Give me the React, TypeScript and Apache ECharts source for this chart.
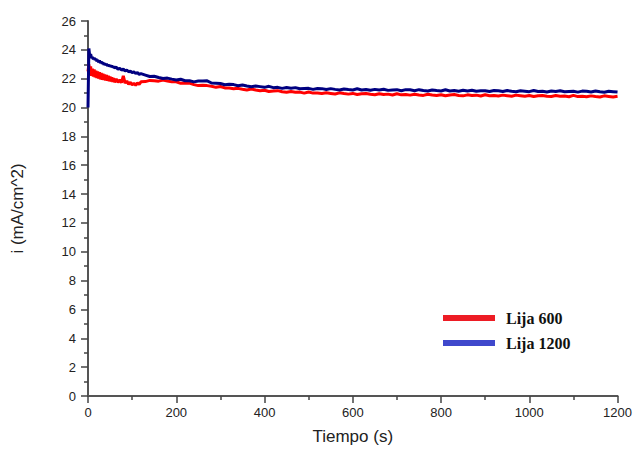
import React, { useEffect, useRef } from "react";
import * as echarts from "echarts";

const timeS: number[] = [
  0, 2, 4, 6, 8, 10, 12, 14, 16, 18,
  20, 22, 24, 26, 28, 30, 32, 34, 36, 38,
  40, 42, 44, 46, 48, 50, 52, 54, 56, 58,
  60, 64, 68, 72, 76, 80, 84, 88, 92, 96,
  100, 104, 108, 112, 116, 120,
  130, 140, 150, 160, 170, 180, 190, 200, 210, 220,
  230, 240, 250, 260, 270, 280, 290, 300, 310, 320,
  330, 340, 350, 360, 370, 380, 390, 400, 410, 420,
  430, 440, 450, 460, 470, 480, 490, 500, 510, 520,
  530, 540, 550, 560, 570, 580, 590, 600, 610, 620,
  630, 640, 650, 660, 670, 680, 690, 700, 710, 720,
  730, 740, 750, 760, 770, 780, 790, 800, 810, 820,
  830, 840, 850, 860, 870, 880, 890, 900, 910, 920,
  930, 940, 950, 960, 970, 980, 990, 1000, 1010, 1020,
  1030, 1040, 1050, 1060, 1070, 1080, 1090, 1100, 1110, 1120,
  1130, 1140, 1150, 1160, 1170, 1180, 1190, 1200,
];

const lija600: number[] = [
  22.5, 23.0, 22.3, 22.85, 22.2, 22.7, 22.15, 22.65, 22.1, 22.55,
  22.05, 22.5, 22.0, 22.45, 21.95, 22.4, 21.92, 22.35, 21.9, 22.3,
  21.88, 22.25, 21.85, 22.2, 21.82, 22.15, 21.8, 22.1, 21.78, 22.05,
  21.76, 21.98, 21.74, 21.92, 21.72, 22.2, 21.7, 21.85, 21.62, 21.75,
  21.58, 21.68, 21.55, 21.7, 21.6, 21.78,
  21.8, 21.88, 21.86, 21.83, 21.9, 21.84, 21.78, 21.79, 21.68, 21.7,
  21.69, 21.59, 21.52, 21.55, 21.52, 21.48, 21.4, 21.46, 21.36, 21.35,
  21.3, 21.33, 21.27, 21.22, 21.28, 21.22, 21.17, 21.2, 21.11, 21.15,
  21.17, 21.09, 21.06, 21.11, 21.06, 21.07, 21.0, 21.08, 21.0, 21.01,
  20.97, 21.02, 20.98, 20.94, 21.02, 20.97, 20.93, 20.98, 20.9, 20.96,
  20.98, 20.92, 20.89, 20.96, 20.91, 20.93, 20.87, 20.96, 20.88, 20.9,
  20.86, 20.92, 20.87, 20.84, 20.92, 20.87, 20.84, 20.89, 20.82, 20.87,
  20.9, 20.84, 20.81, 20.88, 20.84, 20.86, 20.8, 20.89, 20.82, 20.83,
  20.8, 20.86, 20.82, 20.78, 20.86, 20.82, 20.78, 20.83, 20.76, 20.82,
  20.84, 20.78, 20.76, 20.83, 20.78, 20.8, 20.75, 20.84, 20.76, 20.78,
  20.75, 20.81, 20.76, 20.73, 20.81, 20.77, 20.73, 20.78,
];

const lija1200: number[] = [
  20.0, 24.1, 23.55, 23.7, 23.45, 23.5, 23.35, 23.45, 23.3, 23.38,
  23.22, 23.3, 23.15, 23.25, 23.1, 23.18, 23.05, 23.12, 22.98, 23.06,
  22.95, 23.02, 22.9, 22.97, 22.86, 22.93, 22.82, 22.9, 22.78, 22.85,
  22.75, 22.8, 22.66, 22.72, 22.6, 22.66, 22.54, 22.6, 22.48, 22.53,
  22.42, 22.47, 22.36, 22.42, 22.3, 22.35,
  22.25, 22.15, 22.17, 22.08, 22.01, 22.04, 21.97, 21.91, 21.96, 21.86,
  21.86, 21.78, 21.84, 21.84, 21.85, 21.7, 21.69, 21.67, 21.58, 21.62,
  21.59, 21.51, 21.56, 21.49, 21.44, 21.49, 21.45, 21.4, 21.47, 21.38,
  21.4, 21.33, 21.39, 21.34, 21.38, 21.3, 21.32, 21.33, 21.26, 21.32,
  21.31, 21.25, 21.31, 21.26, 21.22, 21.29, 21.25, 21.22, 21.3, 21.22,
  21.25, 21.2, 21.26, 21.22, 21.27, 21.19, 21.22, 21.24, 21.17, 21.24,
  21.23, 21.17, 21.24, 21.18, 21.15, 21.22, 21.18, 21.15, 21.23, 21.15,
  21.18, 21.13, 21.2, 21.15, 21.2, 21.13, 21.16, 21.17, 21.11, 21.18,
  21.17, 21.11, 21.18, 21.13, 21.1, 21.16, 21.13, 21.1, 21.18, 21.11,
  21.13, 21.08, 21.15, 21.11, 21.16, 21.09, 21.11, 21.13, 21.07, 21.14,
  21.13, 21.08, 21.15, 21.09, 21.06, 21.13, 21.1, 21.07,
];

const seriesNames = ["Lija 600", "Lija 1200"];
const xTitle = "Tiempo (s)";
const yTitle = "i (mA/cm^2)";

export default function App() {
  const ref = useRef<HTMLDivElement>(null);
  useEffect(() => {
    if (!ref.current) return;
    const chart = echarts.init(ref.current, undefined, { renderer: "svg" });
    const pairs = (vals: number[]) => timeS.map((t, i) => [t, vals[i]]);
    const axisCommon = {
      axisLine: { show: true, lineStyle: { color: "#555", width: 2 } },
      axisTick: { show: true, inside: false, length: 7, lineStyle: { color: "#444", width: 1.5 } },
      minorTick: { show: true, splitNumber: 2, length: 4, lineStyle: { color: "#444", width: 1.5 } },
      splitLine: { show: false },
      axisLabel: { color: "#222", fontFamily: "Liberation Sans, Arial, sans-serif", fontSize: 13 },
      nameTextStyle: { color: "#222", fontFamily: "Liberation Sans, Arial, sans-serif", fontSize: 17 },
    };
    chart.setOption({
      animation: false,
      backgroundColor: "#fff",
      grid: { left: 88, right: 17, top: 21, bottom: 54 },
      legend: {
        show: true,
        orient: "vertical",
        left: 438,
        top: 305,
        itemWidth: 52,
        itemHeight: 6,
        itemGap: 9,
        icon: "rect",
        textStyle: {
          fontFamily: "Liberation Serif, Times New Roman, serif",
          fontWeight: "bold",
          fontSize: 16,
          color: "#111",
          padding: [0, 0, 0, 6],
        },
        data: [
          { name: seriesNames[0], itemStyle: { color: "#ed1c24" } },
          { name: seriesNames[1], itemStyle: { color: "#3f48cc" } },
        ],
      },
      xAxis: {
        type: "value",
        min: 0,
        max: 1200,
        interval: 200,
        name: xTitle,
        nameLocation: "middle",
        nameGap: 32,
        ...axisCommon,
        axisLabel: { ...axisCommon.axisLabel, margin: 10, formatter: (v: number) => String(v) },
      },
      yAxis: {
        type: "value",
        min: 0,
        max: 26,
        interval: 2,
        name: yTitle,
        nameLocation: "middle",
        nameGap: 62,
        ...axisCommon,
        axisLabel: { ...axisCommon.axisLabel, margin: 12 },
      },
      series: [
        {
          name: seriesNames[0],
          type: "line",
          data: pairs(lija600),
          showSymbol: false,
          lineStyle: { color: "#ff0000", width: 3 },
          itemStyle: { color: "#ff0000" },
          z: 2,
        },
        {
          name: seriesNames[1],
          type: "line",
          data: pairs(lija1200),
          showSymbol: false,
          lineStyle: { color: "#000080", width: 3 },
          itemStyle: { color: "#000080" },
          z: 3,
        },
      ],
    });
    return () => chart.dispose();
  }, []);
  return (
    <div
      ref={ref}
      style={{ position: "fixed", left: 0, top: 0, width: 635, height: 450, background: "#fff" }}
    />
  );
}
